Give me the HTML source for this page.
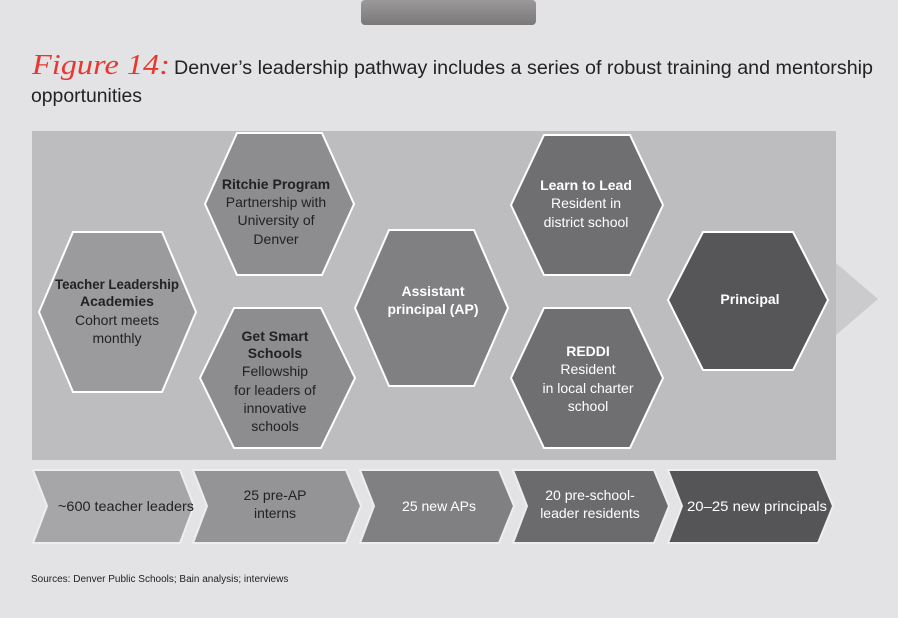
<!DOCTYPE html>
<html><head><style>
body{margin:0;width:898px;height:613px;overflow:hidden;background:#e3e3e5;font-family:"Liberation Sans",sans-serif;}
</style></head><body>
<svg width="898" height="613" xmlns="http://www.w3.org/2000/svg" font-family="Liberation Sans, sans-serif">
<defs><linearGradient id="cl" x1="0" y1="0" x2="0" y2="1"><stop offset="0" stop-color="#9a9899"/><stop offset="1" stop-color="#7a7878"/></linearGradient></defs>
<rect width="898" height="613" fill="#e3e3e5"/>
<rect x="361" y="0" width="175" height="25" rx="4" fill="url(#cl)"/>
<text x="32" y="74" font-family="Liberation Serif, serif" font-style="italic" font-size="28" fill="#e8372f" textLength="138" lengthAdjust="spacingAndGlyphs">Figure 14:</text>
<text x="174" y="74" font-size="19" fill="#222" textLength="699" lengthAdjust="spacingAndGlyphs">Denver’s leadership pathway includes a series of robust training and mentorship</text>
<text x="31" y="102" font-size="19" fill="#222" textLength="111" lengthAdjust="spacingAndGlyphs">opportunities</text>
<rect x="32" y="131" width="804" height="329" fill="#bdbdbf"/>
<polygon points="836,263 878,299 836,335" fill="#cbcbcd"/>
<g stroke="#fff" stroke-width="2">
<polygon points="73,232 162,232 196,312 162,392 73,392 39,312" fill="#9b9b9d"/>
<polygon points="237,133 322,133 354,204 322,275 237,275 205,204" fill="#8d8d8f"/>
<polygon points="234,308 321,308 355,378 321,448 234,448 200,378" fill="#8d8d8f"/>
<polygon points="389,230 474,230 508,308 474,386 389,386 355,308" fill="#808082"/>
<polygon points="544,135 630,135 663,205 630,275 544,275 511,205" fill="#6f6f71"/>
<polygon points="544,308 630,308 663,378 630,448 544,448 511,378" fill="#6f6f71"/>
<polygon points="703,232 793,232 828,300 793,370 703,370 668,300" fill="#565658"/>
</g>
<g text-anchor="middle" font-size="14" fill="#fff">
<text x="117" y="289" font-weight="bold" fill="#222" textLength="124" lengthAdjust="spacingAndGlyphs">Teacher Leadership</text>
<text x="117" y="306" font-weight="bold" fill="#222">Academies</text>
<text x="117" y="325" fill="#222">Cohort meets</text>
<text x="117" y="343" fill="#222">monthly</text>
<text x="276" y="189" font-weight="bold" fill="#222">Ritchie Program</text>
<text x="276" y="207" fill="#222">Partnership with</text>
<text x="276" y="225" fill="#222">University of</text>
<text x="276" y="244" fill="#222">Denver</text>
<text x="275" y="341" font-weight="bold" fill="#222">Get Smart</text>
<text x="275" y="358" font-weight="bold" fill="#222">Schools</text>
<text x="275" y="376" fill="#222">Fellowship</text>
<text x="275" y="395" fill="#222">for leaders of</text>
<text x="275" y="413" fill="#222">innovative</text>
<text x="275" y="431" fill="#222">schools</text>
<text x="433" y="296" font-weight="bold">Assistant</text>
<text x="433" y="314" font-weight="bold">principal (AP)</text>
<text x="586" y="190" font-weight="bold">Learn to Lead</text>
<text x="586" y="208">Resident in</text>
<text x="586" y="227">district school</text>
<text x="588" y="356" font-weight="bold">REDDI</text>
<text x="588" y="374">Resident</text>
<text x="588" y="393">in local charter</text>
<text x="588" y="411">school</text>
<text x="750" y="304" font-weight="bold">Principal</text>
</g>
<g stroke="#eee" stroke-width="2">
<polygon points="33,470 180,470 194,506 180,543 33,543 47,506" fill="#a6a6a8"/>
<polygon points="193,470 346,470 361,506 346,543 193,543 207,506" fill="#949496"/>
<polygon points="360,470 499,470 514,506 499,543 360,543 374,506" fill="#808082"/>
<polygon points="513,470 654,470 669,506 654,543 513,543 527,506" fill="#6b6b6d"/>
<polygon points="668,470 818,470 833,506 818,543 668,543 682,506" fill="#555557"/>
</g>
<g text-anchor="middle" font-size="14" fill="#fff">
<text x="126" y="511" fill="#222" textLength="136" lengthAdjust="spacingAndGlyphs">~600 teacher leaders</text>
<text x="275" y="500" fill="#222">25 pre-AP</text>
<text x="275" y="518" fill="#222">interns</text>
<text x="439" y="511">25 new APs</text>
<text x="590" y="500">20 pre-school-</text>
<text x="590" y="518">leader residents</text>
<text x="757" y="511" textLength="140" lengthAdjust="spacingAndGlyphs">20–25 new principals</text>
</g>
<text x="31" y="582" font-size="10" fill="#222">Sources: Denver Public Schools; Bain analysis; interviews</text>
</svg>
</body></html>
